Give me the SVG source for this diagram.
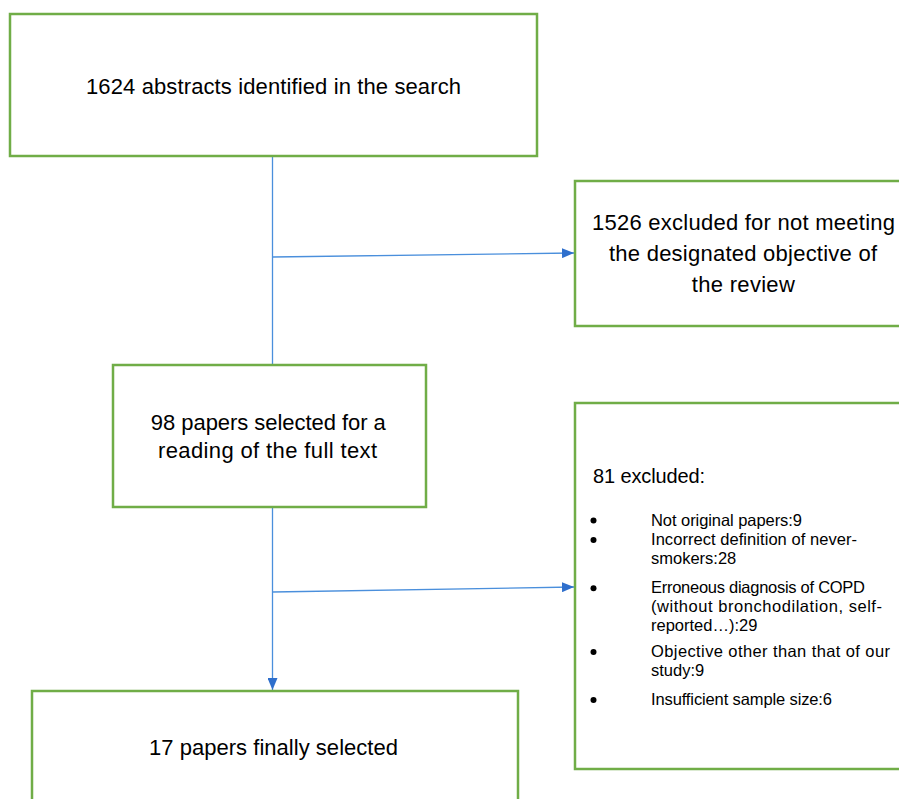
<svg xmlns="http://www.w3.org/2000/svg" width="899" height="799" viewBox="0 0 899 799">
<defs>
<style>
.box{fill:#ffffff;stroke:#70ad47;stroke-width:2.5}
.t{font-family:"Liberation Sans",Arial,sans-serif;fill:#000000}
.m{font-size:22px;text-anchor:middle}
.s{font-size:16.5px}
.h{font-size:20px}
.ln{fill:none;stroke:#4a8fdc;stroke-width:1.3}
.dot{fill:#000000}
</style>
<marker id="ah" viewBox="0 0 12 10" refX="12" refY="5" markerWidth="12" markerHeight="10" markerUnits="userSpaceOnUse" orient="auto">
<path d="M0,0 L12,5 L0,10 Z" fill="#2f6fcc"/>
</marker>
</defs>
<rect width="899" height="799" fill="#ffffff"/>

<g id="connectors">
<line class="ln" x1="272.5" y1="156" x2="272.5" y2="365"/>
<line class="ln" x1="272.5" y1="257" x2="574" y2="253" marker-end="url(#ah)"/>
<line class="ln" x1="272.5" y1="507" x2="272.5" y2="690" marker-end="url(#ah)"/>
<line class="ln" x1="272.5" y1="592" x2="574" y2="587" marker-end="url(#ah)"/>
</g>

<g id="node-identified">
<rect class="box" x="10" y="14" width="527" height="142"/>
<text class="t m" x="273.5" y="94" textLength="375">1624 abstracts identified in the search</text>
</g>

<g id="node-excluded-1526">
<rect class="box" x="575" y="181" width="340" height="145"/>
<text class="t m" x="743.5" y="230" textLength="303">1526 excluded for not meeting</text>
<text class="t m" x="743" y="261" textLength="268">the designated objective of</text>
<text class="t m" x="743.3" y="292" textLength="103">the review</text>
</g>

<g id="node-selected-98">
<rect class="box" x="113" y="365" width="313" height="142"/>
<text class="t m" x="268.3" y="430" textLength="235">98 papers selected for a</text>
<text class="t m" x="267.5" y="458" textLength="219">reading of the full text</text>
</g>

<g id="node-excluded-81">
<rect class="box" x="575" y="403" width="340" height="366"/>
<text class="t h" x="593" y="483" textLength="112">81 excluded:</text>
<circle class="dot" cx="593.5" cy="520.5" r="3"/>
<text class="t s" x="651" y="526" textLength="151">Not original papers:9</text>
<circle class="dot" cx="593.5" cy="540" r="3"/>
<text class="t s" x="651" y="545" textLength="206">Incorrect definition of never-</text>
<text class="t s" x="651" y="564">smokers:28</text>
<circle class="dot" cx="593.5" cy="588.3" r="3"/>
<text class="t s" x="651" y="593" textLength="214">Erroneous diagnosis of COPD</text>
<text class="t s" x="651" y="612" textLength="231">(without bronchodilation, self-</text>
<text class="t s" x="651" y="631">reported…):29</text>
<circle class="dot" cx="593.5" cy="652" r="3"/>
<text class="t s" x="651" y="657" textLength="239">Objective other than that of our</text>
<text class="t s" x="651" y="676">study:9</text>
<circle class="dot" cx="593.5" cy="700" r="3"/>
<text class="t s" x="651" y="705" textLength="181">Insufficient sample size:6</text>
</g>

<g id="node-final-17">
<rect class="box" x="32" y="691" width="486" height="130"/>
<text class="t m" x="273.5" y="755" textLength="249">17 papers finally selected</text>
</g>
</svg>
